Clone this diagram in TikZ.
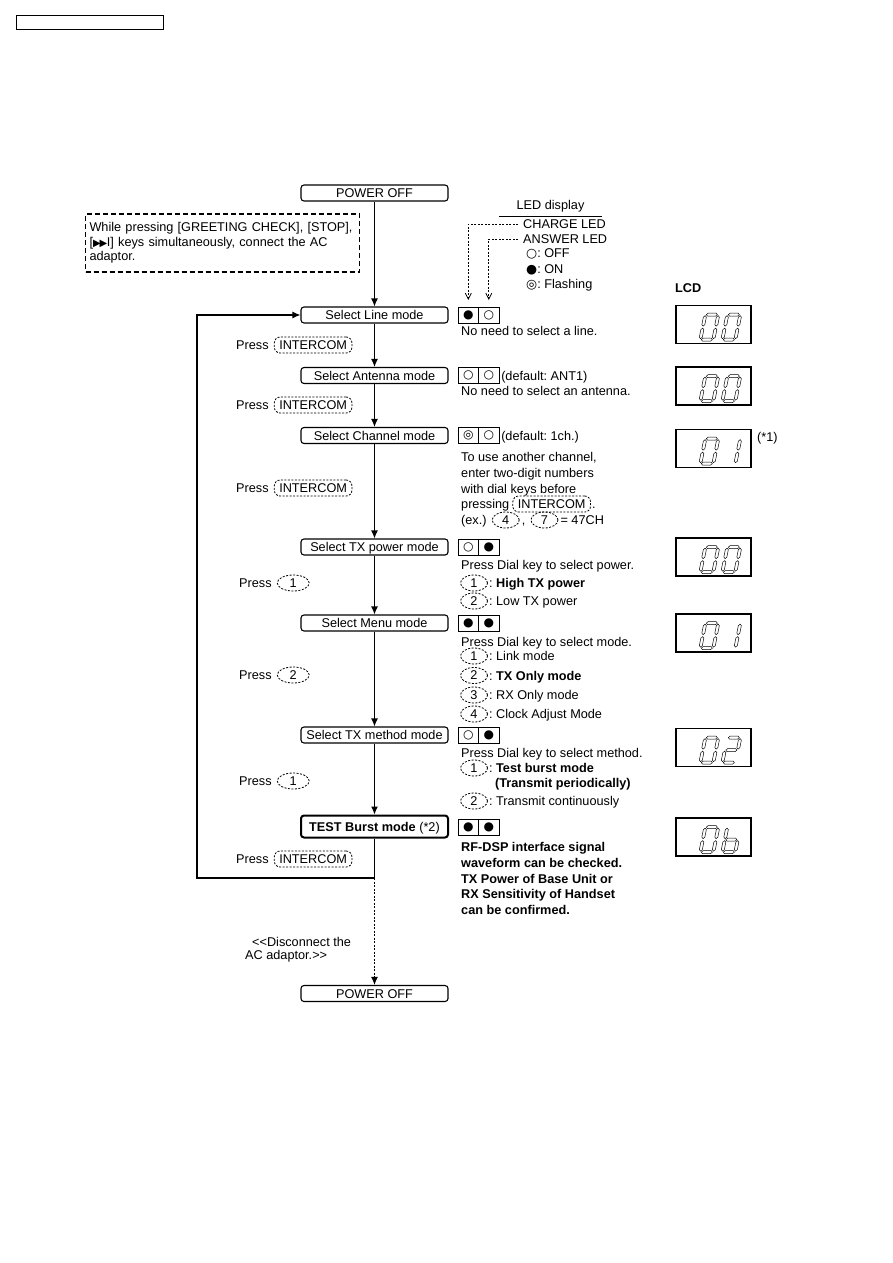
\documentclass[tikz,border=0pt]{standalone}
\usepackage{fontspec}
\setmainfont{Liberation Sans}
\newfontfamily\sym{DejaVu Sans}
\usetikzlibrary{arrows.meta,shapes,positioning,calc}
\frenchspacing

% seven segment pieces for the LCD read-outs
\newcommand{\hseg}[3]{\draw[lcdline] (#1,#3) -- (#1+1.5,#3+1.5) -- (#2-1.5,#3+1.5) -- (#2,#3) -- (#2-1.5,#3-1.5) -- (#1+1.5,#3-1.5) -- cycle;}
\newcommand{\vseg}[3]{\draw[lcdline] (#1,#2) -- (#1+1.5,#2+1.5) -- (#1+1.5,#3-1.5) -- (#1,#3) -- (#1-1.5,#3-1.5) -- (#1-1.5,#2+1.5) -- cycle;}
\newcommand{\segA}{\hseg{1}{12}{25}}
\newcommand{\segG}{\hseg{1}{12}{12.5}}
\newcommand{\segD}{\hseg{1}{12}{0}}
\newcommand{\segF}{\vseg{0}{13.5}{24}}
\newcommand{\segE}{\vseg{0}{1}{11.5}}
\newcommand{\segB}{\vseg{13}{13.5}{24}}
\newcommand{\segC}{\vseg{13}{1}{11.5}}
\newcommand{\lcddigit}[3]{%
  \begin{scope}[shift={(#1.south west)}, x=1pt, y=1pt, shift={(#2,4.5)}, xslant=0.2]
    \foreach \s in {#3} {\csname seg\s\endcsname}
  \end{scope}}

\begin{document}
\begin{tikzpicture}[x=1pt, y=-1pt,
    font=\fontsize{12.7}{15.6}\selectfont,
    stepbox/.style={draw, rounded corners=3pt, line width=1.1pt, minimum width=147pt, minimum height=16pt, inner sep=0pt, text height=9.1pt, text depth=0pt},
    txt/.style={anchor=west, inner sep=0pt, text height=9.1pt, text depth=0pt},
    note/.style={anchor=north west, inner sep=0pt, align=left},
    keyw/.style={draw, dash pattern=on 2pt off 1.5pt, line width=0.8pt, rounded corners=6pt, inner xsep=5pt, inner ysep=3.5pt, text height=9.1pt, text depth=0pt},
    keyd/.style={draw, ellipse, dash pattern=on 2pt off 1.5pt, line width=0.8pt, minimum width=27pt, minimum height=16pt, inner sep=0pt},
    ledcell/.style={draw, line width=0.9pt, minimum width=20.5pt, minimum height=16pt, inner sep=0pt, outer sep=0pt, font=\sym\fontsize{12}{12}\selectfont},
    lcdbox/.style={draw, line width=1.3pt, minimum width=75pt, minimum height=38pt, inner sep=0pt},
    lcdline/.style={line width=0.5pt, line join=round},
    arrow/.style={-{Latex[length=8pt, width=7pt]}, line width=1.1pt},
    leader/.style={-{Straight Barb[length=6pt, width=6pt]}, dash pattern=on 2pt off 1.5pt, line width=0.8pt}
]
    \useasboundingbox (0,0) rectangle (893,1263);

    % page header
    \node[draw, line width=1pt, minimum width=147pt, minimum height=14pt, inner sep=0pt] (hdr) at (89.5,23) {};

    % start condition
    \node[draw, dash pattern=on 5pt off 3pt, line width=1.2pt, text width=266pt, align=left, inner xsep=4pt, inner ysep=5pt,
          minimum height=58pt, font=\fontsize{12.7}{14.3}\selectfont] (cond) at (222.5,243)
        {While pressing [GREETING CHECK], [STOP],\\{}[{\sym\fontsize{10}{10}\selectfont ▶\kern-1pt▶}\kern-0.5pt I] keys simultaneously, connect the AC\\{}adaptor.};

    % main flow
    \node[stepbox] (off1) at (374.5,193) {POWER OFF};
    \node[stepbox] (line) at (374.5,315) {Select Line mode};
    \node[stepbox] (ant) at (374.5,375.5) {Select Antenna mode};
    \node[stepbox] (chan) at (374.5,435.5) {Select Channel mode};
    \node[stepbox] (txp) at (374.5,547) {Select TX power mode};
    \node[stepbox] (menu) at (374.5,623) {Select Menu mode};
    \node[stepbox] (txm) at (374.5,735) {Select TX method mode};
    \node[stepbox, line width=2pt, minimum height=22pt] (burst) at (374.5,826.5) {\textbf{TEST Burst mode} (*2)};
    \node[stepbox] (off2) at (374.5,993.5) {POWER OFF};

    \draw[arrow] (off1) -- (line);
    \draw[arrow] (line) -- (ant);
    \draw[arrow] (ant) -- (chan);
    \draw[arrow] (chan) -- (txp);
    \draw[arrow] (txp) -- (menu);
    \draw[arrow] (menu) -- (txm);
    \draw[arrow] (txm) -- (burst);

    % back to line mode, or power off
    \coordinate (lpc) at (374.5,878);
    \coordinate (lpl) at (197,878);
    \draw[arrow] (burst) -- (lpc) -- (lpl) |- (line.west);
    \draw[arrow, dash pattern=on 2pt off 1.5pt] (lpc) -- (off2);
    \node[note, font=\fontsize{12.7}{13.5}\selectfont] (disc) at (245,937)
        {\hspace*{7pt}<{}<Disconnect the\\AC adaptor.>{}>};

    % key presses
    \node[txt] (pr1) at (236,345) {Press};
    \node[keyw, right=5pt of pr1] (kr1) {INTERCOM};
    \node[txt] (pr2) at (236,405) {Press};
    \node[keyw, right=5pt of pr2] (kr2) {INTERCOM};
    \node[txt] (pr3) at (236,488) {Press};
    \node[keyw, right=5pt of pr3] (kr3) {INTERCOM};
    \node[txt] (pr4) at (239,583) {Press};
    \node[keyd, minimum width=32pt, right=5pt of pr4] (kr4) {1};
    \node[txt] (pr5) at (239,675) {Press};
    \node[keyd, minimum width=32pt, right=5pt of pr5] (kr5) {2};
    \node[txt] (pr6) at (239,781) {Press};
    \node[keyd, minimum width=32pt, right=5pt of pr6] (kr6) {1};
    \node[txt] (pr7) at (236,859) {Press};
    \node[keyw, right=5pt of pr7] (kr7) {INTERCOM};

    % LED legend
    \node[minimum width=103pt, inner sep=0pt] (ledtitle) at (550.5,206) {LED display};
    \draw[line width=0.8pt] ([yshift=-4pt]ledtitle.south west) -- ([yshift=-4pt]ledtitle.south east);
    \node[txt] (chg) at (523,224) {CHARGE LED};
    \node[txt] (ans) at (523,239) {ANSWER LED};
    \node[txt] (lgoff) at (526,253) {{\sym ○}: OFF};
    \node[txt] (lgon) at (526,269) {{\sym ●}: ON};
    \node[txt] (lgfl) at (526,284) {{\sym ◎}: Flashing};

    % LED states
    \foreach \nm/\yy/\la/\lb in {line/315/●/○, ant/375.5/○/○, chan/435.5/◎/○, txp/547/○/●,
                                  menu/623/●/●, txm/735/○/●, burst/827/●/●} {
        \node[ledcell] (\nm-l) at (468.3,\yy) {\la};
        \node[ledcell, right=0pt of \nm-l] (\nm-r) {\lb};
    }
    \draw[leader] ([xshift=-5pt]chg.west) -| ([yshift=7pt]line-l.north);
    \draw[leader] ([xshift=-5pt]ans.west) -| ([yshift=7pt]line-r.north);

    % notes
    \node[txt] (n1) at (461,331) {No need to select a line.};
    \node[txt, right=2pt of ant-r] (n2a) {(default: ANT1)};
    \node[txt] (n2b) at (461,391) {No need to select an antenna.};
    \node[txt, right=2pt of chan-r] (n3a) {(default: 1ch.)};
    \node[note] (n3b) at (461,452.5)
        {To use another channel,\\enter two-digit numbers\\with dial keys before};
    \node[txt] (n3c) at (461,504) {pressing};
    \node[keyw, right=3pt of n3c] (n3k) {INTERCOM};
    \node[txt, right=1pt of n3k] (n3d) {.};
    \node[txt] (n3e) at (461,520) {(ex.)};
    \node[keyd, right=5pt of n3e] (n3f) {4};
    \node[txt, right=2pt of n3f] (n3g) {,};
    \node[keyd, right=5pt of n3g] (n3h) {7};
    \node[txt, right=2pt of n3h] (n3i) {= 47CH};

    \node[txt] (n4a) at (461,565) {Press Dial key to select power.};
    \node[keyd] (n4k1) at (474,583) {1};
    \node[txt, right=1pt of n4k1] {: \textbf{High TX power}};
    \node[keyd] (n4k2) at (474,601) {2};
    \node[txt, right=1pt of n4k2] {: Low TX power};

    \node[txt] (n5a) at (461,642) {Press Dial key to select mode.};
    \node[keyd] (n5k1) at (474,656) {1};
    \node[txt, right=1pt of n5k1] {: Link mode};
    \node[keyd] (n5k2) at (474,675.5) {2};
    \node[txt, right=1pt of n5k2] {: \textbf{TX Only mode}};
    \node[keyd] (n5k3) at (474,695) {3};
    \node[txt, right=1pt of n5k3] {: RX Only mode};
    \node[keyd] (n5k4) at (474,714) {4};
    \node[txt, right=1pt of n5k4] {: Clock Adjust Mode};

    \node[txt] (n6a) at (461,753) {Press Dial key to select method.};
    \node[keyd] (n6k1) at (474,768) {1};
    \node[txt, right=1pt of n6k1] {: \textbf{Test burst mode}};
    \node[txt] (n6b) at (495,783) {\textbf{(Transmit periodically)}};
    \node[keyd] (n6k2) at (474,801) {2};
    \node[txt, right=1pt of n6k2] {: Transmit continuously};

    \node[note, font=\fontsize{12.7}{15.6}\selectfont\bfseries] (n7) at (461,842.5)
        {RF-DSP interface signal\\waveform can be checked.\\TX Power of Base Unit or\\RX Sensitivity of Handset\\can be confirmed.};

    % LCD read-outs
    \node[txt] (lcdt) at (675,288) {\textbf{LCD}};
    \node[lcdbox] (lcd1) at (713.5,324.5) {};
    \node[lcdbox] (lcd2) at (713.5,386) {};
    \node[lcdbox] (lcd3) at (713.5,448.5) {};
    \node[txt] (note1) at (757,437) {(*1)};
    \node[lcdbox] (lcd4) at (713.5,557) {};
    \node[lcdbox] (lcd5) at (713.5,633) {};
    \node[lcdbox] (lcd6) at (713.5,747.5) {};
    \node[lcdbox] (lcd7) at (713.5,837) {};

    \lcddigit{lcd1}{25}{A,B,C,D,E,F} \lcddigit{lcd1}{47}{A,B,C,D,E,F}
    \lcddigit{lcd2}{25}{A,B,C,D,E,F} \lcddigit{lcd2}{47}{A,B,C,D,E,F}
    \lcddigit{lcd3}{25}{A,B,C,D,E,F} \lcddigit{lcd3}{47}{B,C}
    \lcddigit{lcd4}{25}{A,B,C,D,E,F} \lcddigit{lcd4}{47}{A,B,C,D,E,F}
    \lcddigit{lcd5}{25}{A,B,C,D,E,F} \lcddigit{lcd5}{47}{B,C}
    \lcddigit{lcd6}{25}{A,B,C,D,E,F} \lcddigit{lcd6}{47}{A,B,G,E,D}
    \lcddigit{lcd7}{25}{A,B,C,D,E,F} \lcddigit{lcd7}{47}{F,E,G,C,D}
\end{tikzpicture}
\end{document}
